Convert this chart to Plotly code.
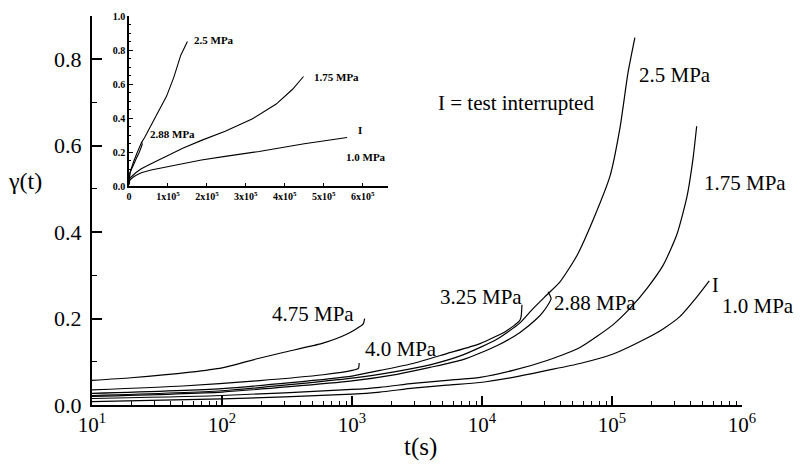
import plotly.graph_objects as go

# ---------------- data ----------------
# main panel: time t (s) and shear strain gamma(t) for each stress level
t_475 = [10, 20, 57, 100, 186, 300, 598, 900, 1216, 1250]
g_475 = [0.057, 0.063, 0.076, 0.086, 0.107, 0.122, 0.143, 0.163, 0.187, 0.200]

t_400 = [10, 50, 186, 600, 1000, 1120, 1135]
g_400 = [0.035, 0.044, 0.056, 0.070, 0.080, 0.085, 0.097]

t_325 = [10, 100, 1000, 1640, 2950, 5370, 9660, 15500, 19500, 20000, 20300]
g_325 = [0.027, 0.038, 0.067, 0.080, 0.096, 0.119, 0.142, 0.172, 0.195, 0.205, 0.232]

t_288 = [10, 100, 1000, 2220, 3980, 7140, 13000, 19600, 26500, 29400, 31600, 34000, 32200]
g_288 = [0.020, 0.030, 0.056, 0.071, 0.087, 0.105, 0.137, 0.168, 0.200, 0.215, 0.228, 0.246, 0.262]

t_250 = [10, 100, 1000, 2220, 3980, 7140, 13000, 19600, 24700, 31600, 39800, 53800,
         71500, 96600, 115000, 133000, 150000]
g_250 = [0.022, 0.033, 0.062, 0.078, 0.093, 0.116, 0.152, 0.190, 0.223, 0.255, 0.285, 0.346,
         0.428, 0.530, 0.640, 0.770, 0.850]

t_175 = [10, 100, 1000, 1640, 2950, 5370, 9660, 17300, 31600, 56700, 102000, 138000,
         186000, 247000, 316000, 378000, 420000, 448000]
g_175 = [0.015, 0.022, 0.036, 0.041, 0.050, 0.057, 0.064, 0.080, 0.103, 0.133, 0.186, 0.224,
         0.270, 0.323, 0.395, 0.483, 0.570, 0.645]

t_100 = [10, 100, 1000, 1640, 2950, 5370, 9660, 17300, 31600, 56700, 102000, 186000,
         247000, 334000, 450000, 560000]
g_100 = [0.008, 0.014, 0.025, 0.030, 0.039, 0.046, 0.052, 0.064, 0.080, 0.096, 0.118, 0.155,
         0.176, 0.205, 0.250, 0.287]

# tick labels
x_tick_vals = [10, 100, 1000, 10000, 100000, 1000000]
x_tick_text = ["10<sup>1</sup>", "10<sup>2</sup>", "10<sup>3</sup>",
               "10<sup>4</sup>", "10<sup>5</sup>", "10<sup>6</sup>"]
y_tick_vals = [0.0, 0.2, 0.4, 0.6, 0.8]
y_tick_text = ["0.0", "0.2", "0.4", "0.6", "0.8"]

in_x_tick_vals = [0, 100000, 200000, 300000, 400000, 500000, 600000]
in_x_tick_text = ["0", "1x10<sup>5</sup>", "2x10<sup>5</sup>", "3x10<sup>5</sup>",
                  "4x10<sup>5</sup>", "5x10<sup>5</sup>", "6x10<sup>5</sup>"]
in_y_tick_vals = [0.0, 0.2, 0.4, 0.6, 0.8, 1.0]
in_y_tick_text = ["0.0", "0.2", "0.4", "0.6", "0.8", "1.0"]

# curve labels (main panel): text, log10(t), gamma
main_labels = ["2.5 MPa", "1.75 MPa", "1.0 MPa", "2.88 MPa", "3.25 MPa", "4.0 MPa", "4.75 MPa"]
main_lab_x = [5.19, 5.692, 5.831, 4.538, 3.662, 3.085, 2.369]
main_lab_y = [0.763, 0.5125, 0.228, 0.235, 0.251, 0.130, 0.2096]

# curve labels (inset): text, t, gamma
inset_labels = ["2.5 MPa", "1.75 MPa", "2.88 MPa", "1.0 MPa"]
inset_lab_x = [161600, 471000, 48000, 551000]
inset_lab_y = [0.857, 0.643, 0.307, 0.174]

SERIF = "Liberation Serif, Times New Roman, Times, serif"

fig = go.Figure()

main_series = [(t_475, g_475), (t_400, g_400), (t_325, g_325), (t_288, g_288),
               (t_250, g_250), (t_175, g_175), (t_100, g_100)]
for t, g in main_series:
    fig.add_trace(go.Scatter(x=t, y=g, mode="lines", xaxis="x", yaxis="y",
                             line=dict(color="black", width=1.2, shape="spline",
                                       smoothing=0.6),
                             showlegend=False, hoverinfo="skip"))

inset_series = [(t_250, g_250), (t_288, g_288), (t_175, g_175), (t_100, g_100)]
for t, g in inset_series:
    fig.add_trace(go.Scatter(x=t, y=g, mode="lines", xaxis="x2", yaxis="y2",
                             line=dict(color="black", width=1.1), showlegend=False,
                             hoverinfo="skip"))

minor_x = [m * 10 ** e for e in range(1, 6) for m in range(2, 10)]

annotations = []
for txt, x, y in zip(main_labels, main_lab_x, main_lab_y):
    annotations.append(dict(text=txt, x=x, y=y, xref="x", yref="y", xanchor="left",
                            yanchor="middle", showarrow=False,
                            font=dict(family=SERIF, size=21, color="black")))
annotations.append(dict(text="I = test interrupted", x=4.262, y=0.699, xref="x", yref="y",
                        xanchor="center", yanchor="middle", showarrow=False,
                        font=dict(family=SERIF, size=21, color="black")))
annotations.append(dict(text="I", x=5.793, y=0.278, xref="x", yref="y",
                        xanchor="center", yanchor="middle", showarrow=False,
                        font=dict(family=SERIF, size=20, color="black")))
for txt, x, y in zip(inset_labels, inset_lab_x, inset_lab_y):
    annotations.append(dict(text=txt, x=x, y=y, xref="x2", yref="y2", xanchor="left",
                            yanchor="middle", showarrow=False,
                            font=dict(family=SERIF, size=11, color="black", weight="bold")))
annotations.append(dict(text="I", x=592000, y=0.33, xref="x2", yref="y2", xanchor="center",
                        yanchor="middle", showarrow=False,
                        font=dict(family=SERIF, size=11, color="black", weight="bold")))
# axis titles
annotations.append(dict(text="γ(t)", x=-0.103, y=0.575, xref="paper", yref="paper",
                        xanchor="center", yanchor="middle", showarrow=False,
                        font=dict(family=SERIF, size=24, color="black")))
annotations.append(dict(text="t(s)", x=0.506, y=-0.109, xref="paper", yref="paper",
                        xanchor="center", yanchor="middle", showarrow=False,
                        font=dict(family=SERIF, size=25, color="black")))

fig.update_layout(
    width=802, height=469,
    margin=dict(l=92, r=60, t=10, b=64),
    paper_bgcolor="white", plot_bgcolor="white",
    font=dict(family=SERIF, color="black"),
    showlegend=False,
    annotations=annotations,
    xaxis=dict(type="log", range=[1, 6], domain=[0, 1], anchor="y",
               showline=True, linecolor="black", linewidth=2,
               ticks="inside", ticklen=9, tickwidth=1.5, tickcolor="black",
               tickmode="array", tickvals=x_tick_vals, ticktext=x_tick_text,
               tickfont=dict(family=SERIF, size=21, color="black"),
               minor=dict(tickmode="array", tickvals=minor_x, ticks="inside",
                          ticklen=4, tickwidth=1, tickcolor="black"),
               showgrid=False, zeroline=False),
    yaxis=dict(range=[0, 0.9], domain=[0, 1], anchor="x",
               showline=True, linecolor="black", linewidth=2,
               ticks="inside", ticklen=10, tickwidth=1.5, tickcolor="black",
               tickmode="array", tickvals=y_tick_vals, ticktext=y_tick_text,
               tickfont=dict(family=SERIF, size=22, color="black"),
               ticklabelstandoff=4,
               minor=dict(tickmode="array", tickvals=[0.1, 0.3, 0.5, 0.7, 0.9],
                          ticks="inside", ticklen=5, tickwidth=1, tickcolor="black"),
               showgrid=False, zeroline=False),
    xaxis2=dict(range=[0, 665000], domain=[0.0569, 0.4554], anchor="y2",
                showline=True, linecolor="black", linewidth=1.5,
                ticks="inside", ticklen=4, tickwidth=1, tickcolor="black",
                tickmode="array", tickvals=in_x_tick_vals, ticktext=in_x_tick_text,
                tickfont=dict(family=SERIF, size=10, color="black", weight="bold"),
                showgrid=False, zeroline=False),
    yaxis2=dict(range=[0, 1.0], domain=[0.562, 1.0], anchor="x2",
                showline=True, linecolor="black", linewidth=1.5,
                ticks="inside", ticklen=4, tickwidth=1, tickcolor="black",
                tickmode="array", tickvals=in_y_tick_vals, ticktext=in_y_tick_text,
                tickfont=dict(family=SERIF, size=10, color="black", weight="bold"),
                minor=dict(dtick=0.05, ticks="inside", ticklen=2, tickwidth=1,
                           tickcolor="black"),
                showgrid=False, zeroline=False),
)

fig.write_html("out.html")
